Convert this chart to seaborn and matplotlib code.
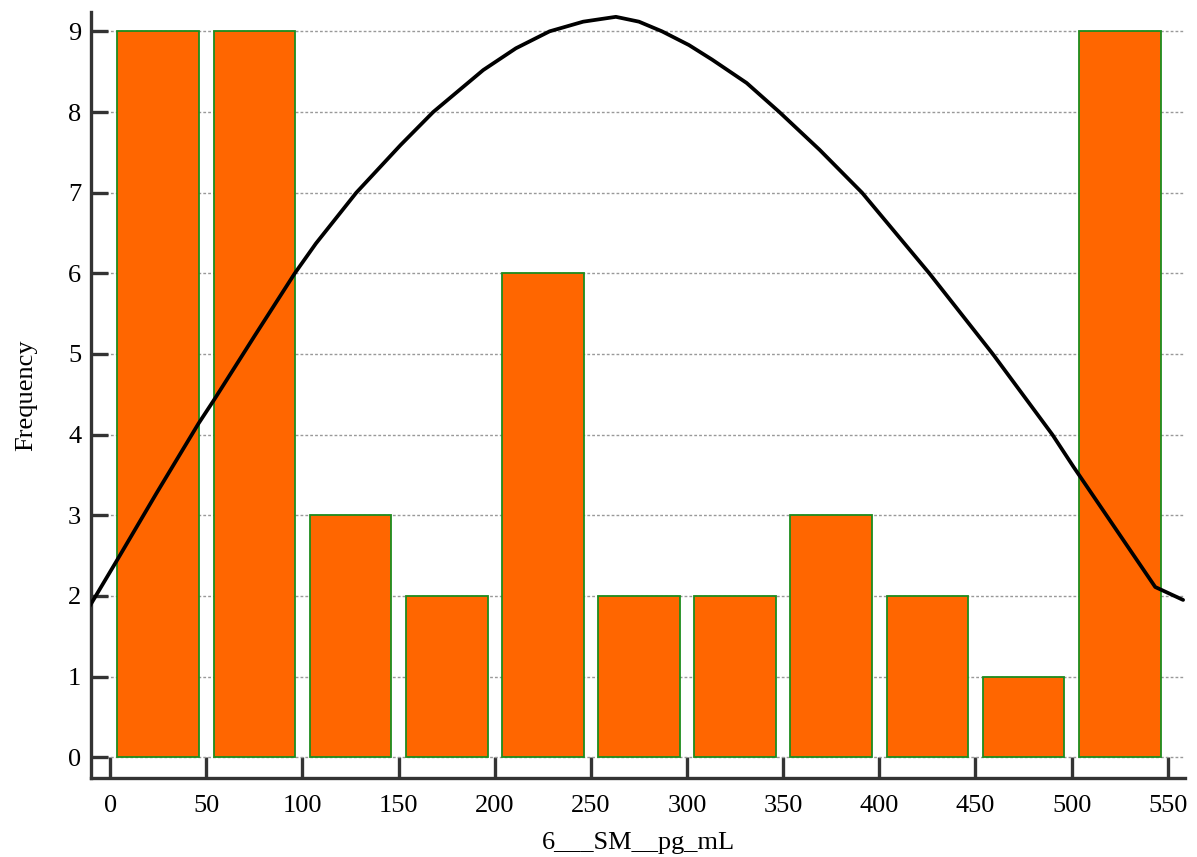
import numpy as np
import pandas as pd
import seaborn as sns
import matplotlib
matplotlib.use("Agg")
import matplotlib.pyplot as plt

# ---- data ----
bin_edges = [0, 50, 100, 150, 200, 250, 300, 350, 400, 450, 500, 550]
bin_centers = [25, 75, 125, 175, 225, 275, 325, 375, 425, 475, 525]
counts = [9, 9, 3, 2, 6, 2, 2, 3, 2, 1, 9]

curve_x = [-12, 3.5, 24, 46, 54, 75, 96, 107, 128, 151, 168, 194, 211, 228.5,
           246, 263, 275, 287, 301, 313, 331, 348, 369, 391, 426, 459, 490,
           501, 543.5, 558]
curve_y = [1.82, 2.44, 3.27, 4.14, 4.43, 5.22, 6.00, 6.37, 7.00, 7.59, 8.00, 8.52,
           8.79, 9.00, 9.12, 9.18, 9.12, 9.00, 8.83, 8.65, 8.36, 8.00, 7.53, 7.00,
           6.00, 5.00, 4.00, 3.60, 2.11, 1.95]

x_ticks = [0, 50, 100, 150, 200, 250, 300, 350, 400, 450, 500, 550]
y_ticks = [0, 1, 2, 3, 4, 5, 6, 7, 8, 9]
x_label = "6___SM__pg_mL"
y_label = "Frequency"

# ---- style ----
sns.set_style("white")
plt.rcParams['font.family'] = ['Liberation Serif', 'DejaVu Serif']
plt.rcParams['text.color'] = 'black'
plt.rcParams['axes.labelcolor'] = 'black'
plt.rcParams['xtick.color'] = 'black'
plt.rcParams['ytick.color'] = 'black'

fig = plt.figure(figsize=(11.97, 8.57), dpi=100)
ax = fig.add_axes([0.076, 0.092, 0.914, 0.894])

df = pd.DataFrame({"x": bin_centers, "w": counts})
sns.histplot(data=df, x="x", weights="w", bins=bin_edges, shrink=0.85,
             color="#FF6600", alpha=1.0, edgecolor="#1E8C1E", linewidth=1.3,
             ax=ax, zorder=2)

sns.lineplot(x=curve_x, y=curve_y, sort=False, color="black", linewidth=2.7,
             ax=ax, zorder=3)
for ln in ax.lines:
    ln.set_solid_joinstyle("round")

ax.set_xlim(-10, 559)
ax.set_ylim(-0.26, 9.24)
ax.set_xticks(x_ticks)
ax.set_yticks(y_ticks)

ax.yaxis.grid(True, linestyle=(0, (2, 1.5)), color="#999999", linewidth=1.0, zorder=0)
ax.xaxis.grid(False)
ax.set_axisbelow(True)

for s in ["top", "right"]:
    ax.spines[s].set_visible(False)
for s in ["left", "bottom"]:
    ax.spines[s].set_color("#333333")
    ax.spines[s].set_linewidth(2.4)

ax.tick_params(axis="x", bottom=True, direction="in", length=15, width=2.4,
               color="#333333", labelcolor="black", labelsize=19, pad=12)
ax.tick_params(axis="y", left=True, direction="in", length=12, width=2.4,
               color="#333333", labelcolor="black", labelsize=19, pad=7)

ax.set_xlabel(x_label, fontsize=19, labelpad=11)
ax.set_ylabel(y_label, fontsize=19, labelpad=22)

fig.savefig("out.png", dpi=100)
